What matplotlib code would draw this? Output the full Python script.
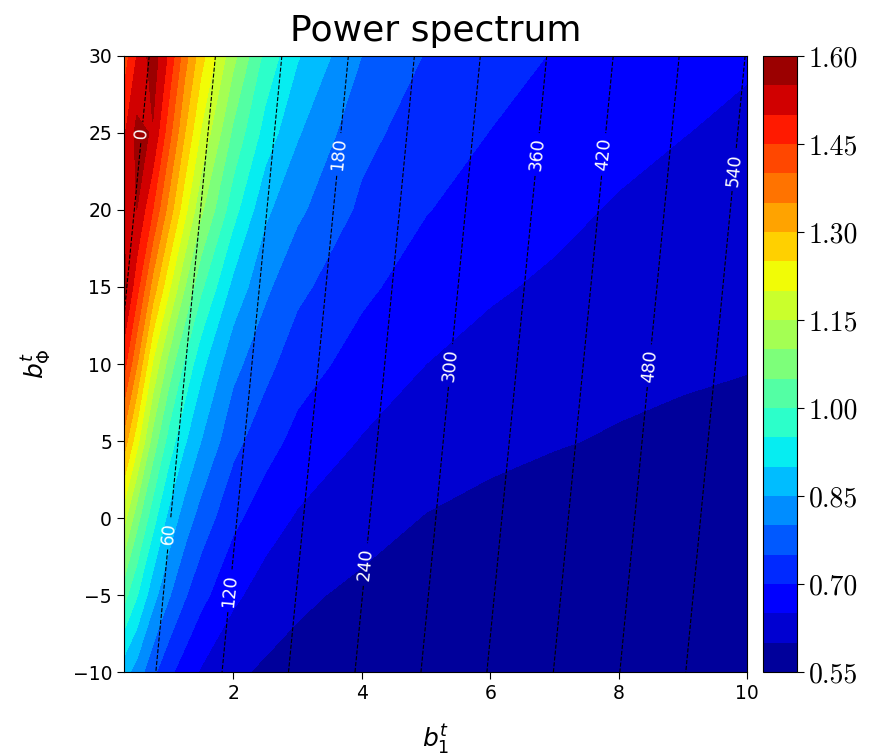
import numpy as np
import matplotlib
matplotlib.use("Agg")
import matplotlib.pyplot as plt

# grid
b1 = [0.3, 0.5, 0.75, 1.0, 1.25, 1.5, 2.0, 2.5, 3.0, 4.0, 5.0, 6.0, 7.0, 8.0, 9.0, 10.0]
bphi = [-10, -5, 0, 5, 10, 15, 20, 25, 30]

# colour field, one row per bphi value
power = [
    [0.87, 0.83, 0.762, 0.712, 0.675, 0.645, 0.608, 0.593, 0.585, 0.574, 0.567, 0.563, 0.560, 0.558, 0.556, 0.555],
    [1.02, 0.955, 0.87, 0.805, 0.755, 0.715, 0.66, 0.628, 0.608, 0.59, 0.58, 0.574, 0.57, 0.567, 0.564, 0.562],
    [1.17, 1.07, 0.97, 0.885, 0.825, 0.78, 0.712, 0.672, 0.645, 0.618, 0.598, 0.587, 0.579, 0.573, 0.569, 0.566],
    [1.33, 1.22, 1.08, 0.98, 0.905, 0.85, 0.765, 0.72, 0.685, 0.647, 0.626, 0.612, 0.603, 0.596, 0.591, 0.587],
    [1.47, 1.355, 1.195, 1.08, 0.99, 0.915, 0.815, 0.765, 0.722, 0.68, 0.65, 0.633, 0.621, 0.612, 0.606, 0.602],
    [1.57, 1.47, 1.33, 1.21, 1.10, 1.01, 0.885, 0.81, 0.762, 0.71, 0.677, 0.656, 0.642, 0.631, 0.623, 0.617],
    [1.545, 1.55, 1.45, 1.33, 1.215, 1.11, 0.97, 0.86, 0.81, 0.74, 0.702, 0.679, 0.662, 0.645, 0.635, 0.627],
    [1.49, 1.565, 1.545, 1.42, 1.30, 1.195, 1.04, 0.93, 0.855, 0.765, 0.724, 0.699, 0.68, 0.665, 0.651, 0.641],
    [1.42, 1.50, 1.58, 1.49, 1.37, 1.27, 1.115, 0.985, 0.905, 0.80, 0.747, 0.72, 0.697, 0.68, 0.666, 0.655],
]

# black contour field on a coarser grid
q_b1 = [0.3, 2.0, 4.0, 6.0, 8.0, 10.0]
q_bphi = [-10, 10, 30]
q_vals = [
    [31, 130, 246, 363, 479, 596],
    [4, 103, 219, 336, 452, 569],
    [-23, 76, 192, 309, 425, 542],
]
q_levels = [0, 60, 120, 180, 240, 300, 360, 420, 480, 540]

p_levels = np.linspace(0.55, 1.60, 22)
cbar_ticks = [0.55, 0.70, 0.85, 1.00, 1.15, 1.30, 1.45, 1.60]

fig = plt.figure(figsize=(8.72, 7.56), dpi=100)
ax = fig.add_axes([0.142, 0.111, 0.715, 0.815])
cax = fig.add_axes([0.875, 0.111, 0.039, 0.815])

cf = ax.contourf(b1, bphi, np.array(power), levels=p_levels, cmap="jet")
cs = ax.contour(q_b1, q_bphi, np.array(q_vals), levels=q_levels,
                colors="k", linewidths=0.8, linestyles="dashed")
label_pos = [(0.62, 25), (1.0, -1), (1.9, -4.7), (3.66, 23.6), (4.02, -3),
             (5.39, 9.9), (6.73, 23.6), (7.78, 23.6), (8.45, 9.9), (9.83, 22.6)]
ax.clabel(cs, fmt="%d", colors="w", fontsize=12.5, inline=True, manual=label_pos)

ax.set_xlim(0.3, 10)
ax.set_ylim(-10, 30)
ax.set_xticks([2, 4, 6, 8, 10])
ax.set_yticks([-10, -5, 0, 5, 10, 15, 20, 25, 30])
ax.tick_params(labelsize=13.5, length=5)
ax.set_xlabel(r"$b_1^t$", fontsize=18, labelpad=14)
ax.set_ylabel(r"$b_\Phi^t$", fontsize=18, labelpad=14)
ax.set_title("Power spectrum", fontsize=26, pad=11)

cbar = fig.colorbar(cf, cax=cax, ticks=cbar_ticks)
cbar.ax.set_yticklabels(["%.2f" % t for t in cbar_ticks], fontfamily="cmr10", fontsize=20)
cbar.ax.tick_params(length=5)

fig.savefig("out.png", dpi=100)
